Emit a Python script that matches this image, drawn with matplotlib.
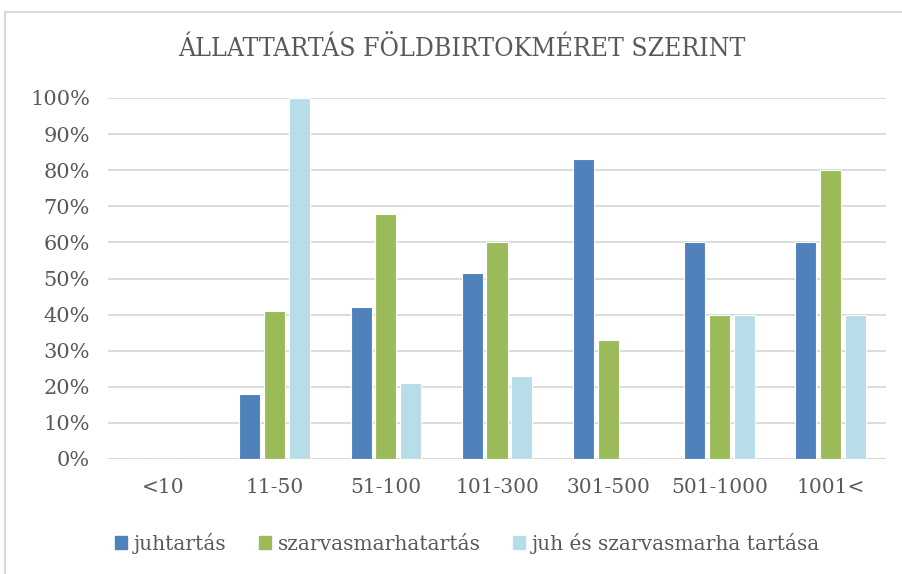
import matplotlib
matplotlib.use("Agg")
import matplotlib.pyplot as plt
from matplotlib.lines import Line2D
import numpy as np

categories = ["<10", "11-50", "51-100", "101-300", "301-500", "501-1000", "1001<"]
series_names = ["juhtartás", "szarvasmarhatartás", "juh és szarvasmarha tartása"]
juh = [0, 18, 42, 51.5, 83, 60, 60]
szarvas = [0, 41, 68, 60, 33, 40, 80]
mindketto = [0, 100, 21, 23, 0, 40, 40]
colors = ["#4F81BD", "#9BBB59", "#B7DEE8"]
yticks = [0, 10, 20, 30, 40, 50, 60, 70, 80, 90, 100]

plt.rcParams['font.family'] = ['DejaVu Serif']
txt = "#595959"

fig = plt.figure(figsize=(9.03, 5.74), dpi=100)
ax = fig.add_axes([108/903, 1-459/574, (886-108)/903, (459-98)/574])

x = np.arange(len(categories))
off = 0.223
w = 0.19
for i, (vals, c, n) in enumerate(zip([juh, szarvas, mindketto], colors, series_names)):
    ax.bar(x + (i-1)*off, vals, width=w, color=c, edgecolor="white", linewidth=0.8, label=n, zorder=3)

ax.set_xlim(-0.5, len(categories)-0.5)
ax.set_ylim(0, 100)
ax.set_yticks(yticks)
ax.set_yticklabels([f"{v}%" for v in yticks], fontsize=15, color=txt)
ax.set_xticks(x)
ax.set_xticklabels(categories, fontsize=14.5, color=txt)
ax.tick_params(axis='both', length=0)
ax.tick_params(axis='y', pad=13)
ax.tick_params(axis='x', pad=14)
ax.grid(axis='y', color="#D9D9D9", linewidth=1.3, zorder=0)
for s in ax.spines.values():
    s.set_visible(False)
ax.axhline(0, color="#D9D9D9", linewidth=1.3, zorder=1)

fig.text(0.511, 1-48/574, "ÁLLATTARTÁS FÖLDBIRTOKMÉRET SZERINT", ha="center", va="center",
         fontsize=19, fontstretch="condensed", color=txt)

handles = [plt.Rectangle((0, 0), 1, 1, color=c) for c in colors]
leg = fig.legend(handles, series_names, loc="center", bbox_to_anchor=(0.518, 1-543/574), ncol=3,
                 frameon=False, fontsize=14.5, handlelength=0.6, handleheight=0.6,
                 handletextpad=0.35, columnspacing=1.6, labelcolor=txt)

# chart border
fig.add_artist(Line2D([5/903, 5/903], [0, 1-12/574], color="#D9D9D9", linewidth=1.5, transform=fig.transFigure))
fig.add_artist(Line2D([5/903, 1], [1-12/574, 1-12/574], color="#D9D9D9", linewidth=1.5, transform=fig.transFigure))

fig.savefig("out.png", dpi=100, facecolor="white")
